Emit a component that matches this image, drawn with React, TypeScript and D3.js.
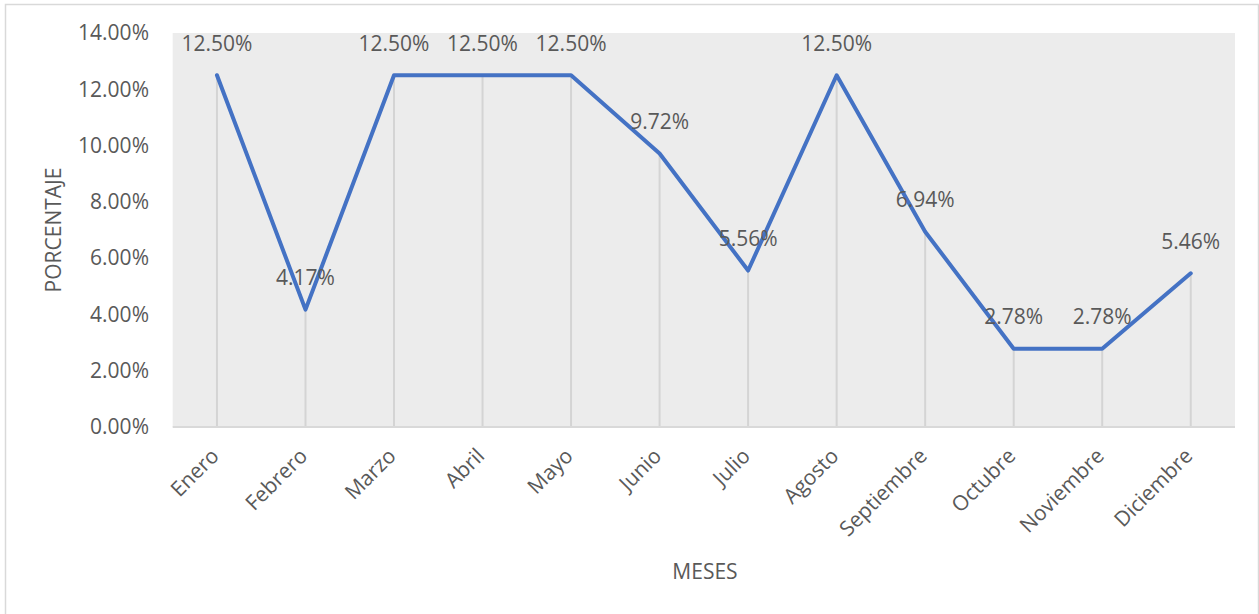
import React from "react";
import * as d3 from "d3";

const months = ["Enero","Febrero","Marzo","Abril","Mayo","Junio","Julio","Agosto","Septiembre","Octubre","Noviembre","Diciembre"];
const values = [12.5, 4.17, 12.5, 12.5, 12.5, 9.72, 5.56, 12.5, 6.94, 2.78, 2.78, 5.46];
const yTicks = [0, 2, 4, 6, 8, 10, 12, 14];
const yTitle = "PORCENTAJE";
const xTitle = "MESES";

const W = 1259, H = 614;
const left = 172.7, right = 1235, top = 33, bottom = 427;
const FONT = "'Open Sans', sans-serif";
const TXT = "#595959";
const FS = 21;

export default function App() {
  const x = d3.scaleBand<string>().domain(months).range([left, right]);
  const y = d3.scaleLinear().domain([0, 14]).range([bottom, top]);
  const cx = (m: string) => (x(m) as number) + x.bandwidth() / 2;
  const line = d3.line<number>().x((_, i) => cx(months[i])).y((v) => y(v));
  return (
    <svg width={W} height={H} style={{ position: "absolute", left: 0, top: 0, fontFamily: FONT }}>
      <rect x={0} y={0} width={W} height={H} fill="#fff" />
      <rect x={5.5} y={4.5} width={1253} height={612} fill="none" stroke="#d9d9d9" strokeWidth={1.5} />
      <rect x={left} y={top} width={right - left} height={bottom - top} fill="#ececec" />
      {months.map((m, i) => (
        <line key={m} x1={cx(m)} x2={cx(m)} y1={y(values[i])} y2={bottom} stroke="#d4d4d4" strokeWidth={2} />
      ))}
      <line x1={left} x2={right} y1={bottom} y2={bottom} stroke="#d9d9d9" strokeWidth={2} />
      {yTicks.map((t) => (
        <text key={t} x={149} y={y(t)} dy="0.35em" textAnchor="end" fontSize={FS} fill={TXT}>
          {t.toFixed(2)}%
        </text>
      ))}
      <path d={line(values) || ""} fill="none" stroke="#4472C4" strokeWidth={4} strokeLinejoin="round" strokeLinecap="round" />
      {months.map((m, i) => (
        <text key={m} x={cx(m)} y={y(values[i]) - 32} dy="0.35em" textAnchor="middle" fontSize={FS} fill={TXT}>
          {values[i].toFixed(2)}%
        </text>
      ))}
      {months.map((m) => (
        <text key={m} transform={`translate(${cx(m) - 2},${bottom + 25}) rotate(-45)`} textAnchor="end" dy="0.35em" fontSize={FS} fill={TXT}>
          {m}
        </text>
      ))}
      <text transform={`translate(${54},${230}) rotate(-90)`} textAnchor="middle" dy="0.35em" fontSize={FS} fill={TXT}>
        {yTitle}
      </text>
      <text x={705} y={572} textAnchor="middle" dy="0.35em" fontSize={FS} fill={TXT}>
        {xTitle}
      </text>
    </svg>
  );
}
